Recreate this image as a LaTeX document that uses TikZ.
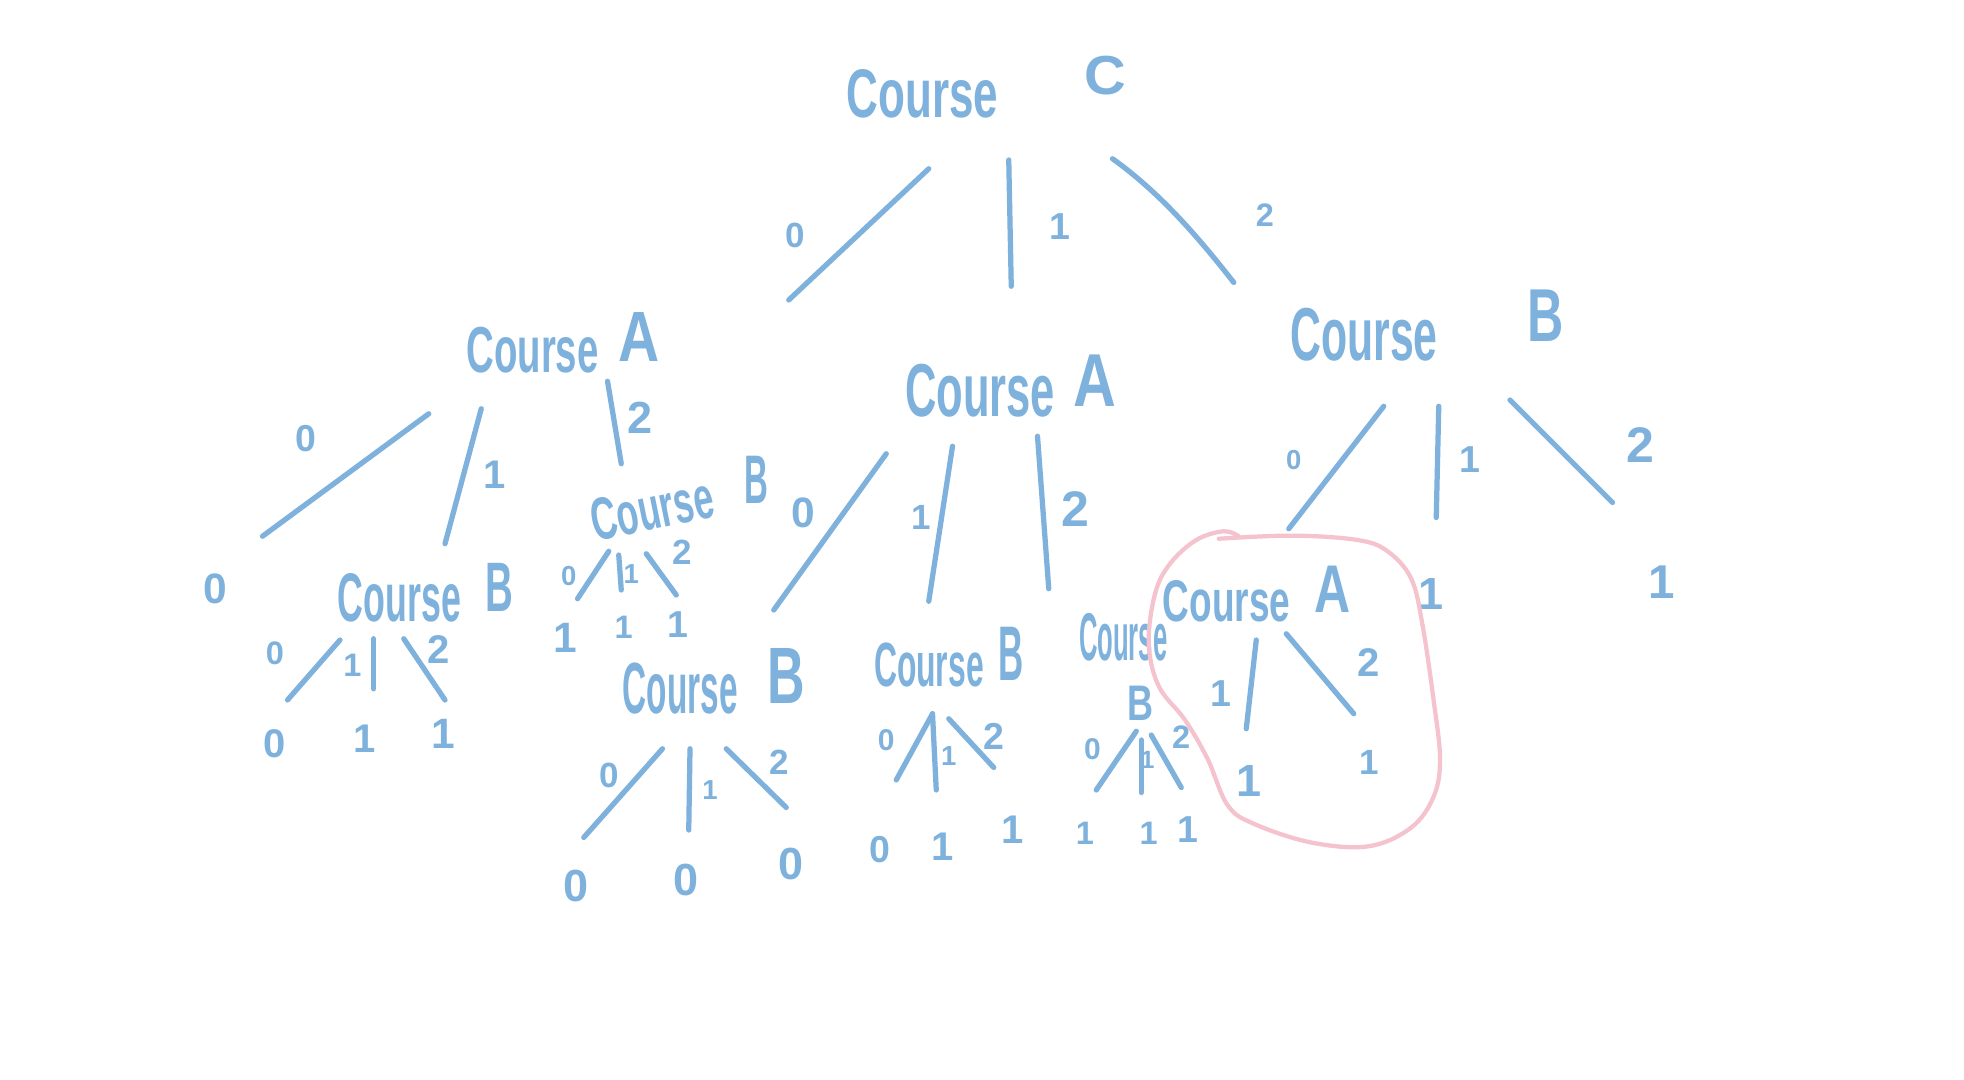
\documentclass[tikz,border=0pt]{standalone}
\usepackage{fontspec}
\setmainfont{Liberation Sans}
\definecolor{cb}{HTML}{7EB1DC}
\definecolor{cp}{HTML}{F5C3CD}
\newcommand\hw[3]{\scalebox{#2}[1]{\fontsize{#1}{#1}\selectfont\bfseries #3}}
\newcommand\br[3]{\coordinate (#1a) at (#2); \coordinate (#1b) at (#3); \draw[edge] (#1a) -- (#1b);}
\tikzset{
  edge/.style={draw=cb, line width=4.2pt, line cap=round},
  lbl/.style={text=cb, inner sep=0pt, anchor=base west},
  dg/.style={text=cb, inner sep=0pt, font=\fontsize{#1}{#1}\selectfont\bfseries},
  ring/.style={draw=cp, line width=3.4pt, line cap=round, line join=round}
}
\begin{document}
\begin{tikzpicture}[x=1pt, y=-1pt]
\useasboundingbox (0,0) rectangle (1571.2,864);
\fill[white] (0,0) rectangle (1571.2,864);
% ---- root
\node[lbl] (cC) at (677,94) {\hw{55}{0.64}{Course}\hspace{69pt}\raisebox{18pt}{\hw{44}{1.05}{C}}};
\br{r0}{743,135}{631,240}
\br{r1}{807,128}{809,229}
\coordinate (r2a) at (890,127); \coordinate (r2b) at (987,226);
\draw[edge] (r2a) .. controls (925,152) and (955,185) .. (r2b);
\node[dg=28] (lr0) at (636,188) {0};
\node[dg=30] (lr1) at (848,181) {1};
\node[dg=26] (lr2) at (1012,172) {2};
% ---- level 2
\node[lbl] (cAl) at (373,298) {\hw{52}{0.59}{Course}\hspace{16pt}\raisebox{9pt}{\hw{57}{0.80}{A}}};
\node[lbl] (cAm) at (724,333) {\hw{60}{0.58}{Course}\hspace{15pt}\raisebox{8pt}{\hw{60}{0.79}{A}}};
\node[lbl] (cBr) at (1032,288) {\hw{60}{0.57}{Course}\hspace{72pt}\raisebox{15pt}{\hw{60}{0.67}{B}}};
% left A branches
\br{a0}{343,331}{210,429}
\br{a1}{385,327}{356,435}
\br{a2}{486,305}{497,371}
\node[dg=30] (la0) at (245,351) {0};
\node[dg=32] (la1) at (396,380) {1};
\node[dg=36] (la2) at (512,334) {2};
\node[dg=34] (leafA0) at (172,471) {0};
% middle A branches
\br{m0}{709,363}{619,488}
\br{m1}{762,357}{743,481}
\br{m2}{830,349}{839,471}
\node[dg=34] (lm0) at (643,410) {0};
\node[dg=28] (lm1) at (737,414) {1};
\node[dg=40] (lm2) at (860,407) {2};
% right B branches
\br{b0}{1107,325}{1031,423}
\br{b1}{1151,325}{1149,414}
\br{b2}{1208,320}{1290,402}
\node[dg=22] (lb0) at (1035,368) {0};
\node[dg=30] (lb1) at (1176,368) {1};
\node[dg=40] (lb2) at (1312,356) {2};
\node[dg=36] (leafB1) at (1145,475) {1};
\node[dg=38] (leafB2) at (1329,466) {1};
% ---- level 3: left Course B
\node[lbl] (cB1) at (270,497) {\hw{55}{0.52}{Course}\hspace{20pt}\raisebox{8pt}{\hw{56}{0.55}{B}}};
\br{p0}{272,512}{230,560}
\br{p1}{299,511}{299,551}
\br{p2}{323,511}{356,560}
\node[dg=26] (lp0) at (220,523) {0};
\node[dg=26] (lp1) at (282,532) {1};
\node[dg=32] (lp2) at (351,520) {2};
\node[dg=32] (lf1) at (220,595) {0};
\node[dg=32] (lf2) at (292,591) {1};
\node[dg=34] (lf3) at (355,587) {1};
% tilted Course B
\node[lbl, rotate=11.5] (cB2) at (476,433) {\hw{48}{0.60}{Course}};
\node[lbl] (cB2b) at (595,403) {\hw{55}{0.48}{B}};
\br{q0}{487,441}{462,479}
\br{q1}{495,444}{497,472}
\br{q2}{517,443}{541,476}
\node[dg=22] (lq0) at (455,461) {0};
\node[dg=22] (lq1) at (505,459) {1};
\node[dg=28] (lq2) at (546,442) {2};
\node[dg=34] (lg1) at (452,510) {1};
\node[dg=26] (lg2) at (499,502) {1};
\node[dg=30] (lg3) at (542,500) {1};
% lower-left Course B
\node[lbl] (cB3) at (498,571) {\hw{58}{0.46}{Course}\hspace{24pt}\raisebox{8pt}{\hw{64}{0.65}{B}}};
\br{s0}{530,599}{467,670}
\br{s1}{552,599}{551,664}
\br{s2}{581,599}{629,646}
\node[dg=28] (ls0) at (487,620) {0};
\node[dg=22] (ls1) at (568,632) {1};
\node[dg=28] (ls2) at (623,610) {2};
\node[dg=36] (lh1) at (461,709) {0};
\node[dg=36] (lh2) at (549,704) {0};
\node[dg=36] (lh3) at (633,691) {0};
% middle Course B
\node[lbl] (cB4) at (699,549) {\hw{50}{0.51}{Course}\hspace{12pt}\raisebox{5pt}{\hw{62}{0.45}{B}}};
\br{t0}{746,571}{717,624}
\br{t1}{746,571}{749,632}
\br{t2}{759,575}{795,614}
\node[dg=24] (lt0) at (709,592) {0};
\node[dg=22] (lt1) at (759,605) {1};
\node[dg=30] (lt2) at (795,589) {2};
\node[dg=30] (lk1) at (704,680) {0};
\node[dg=32] (lk2) at (754,677) {1};
\node[dg=32] (lk3) at (810,664) {1};
% squeezed Course B
\node[lbl] (cB5) at (863,528) {\hw{54}{0.38}{Course}};
\node[lbl] (cB5b) at (902,576) {\hw{40}{0.72}{B}};
\br{u0}{909,585}{877,632}
\br{u1}{913,592}{913,634}
\br{u2}{921,588}{945,630}
\node[dg=24] (lu0) at (874,599) {0};
\node[dg=20] (lu1) at (918,608) {1};
\node[dg=26] (lu2) at (945,590) {2};
\node[dg=26] (ln1) at (868,667) {1};
\node[dg=26] (ln2) at (919,667) {1};
\node[dg=30] (ln3) at (950,664) {1};
% circled Course A
\node[lbl] (cA5) at (930,497) {\hw{47}{0.63}{Course}\hspace{19pt}\raisebox{7pt}{\hw{54}{0.74}{A}}};
\br{v1}{1005,512}{997,583}
\br{v2}{1029,507}{1083,571}
\node[dg=30] (lv1) at (977,555) {1};
\node[dg=32] (lv2) at (1095,530) {2};
\node[dg=36] (lw1) at (999,625) {1};
\node[dg=28] (lw2) at (1095,610) {1};
% pink ring
\draw[ring] plot[smooth, tension=0.6] coordinates {(975,431) (1034,428.5) (1086,432) (1110,441) (1129,463) (1138,500) (1147,561) (1152,607) (1147,637) (1129,662) (1095,677) (1049,674) (1003,659) (982,644) (966,607) (948,576) (927,549) (919,515) (924,475) (936,451) (957,432) (979,425) (991,429)};
\end{tikzpicture}
\end{document}
